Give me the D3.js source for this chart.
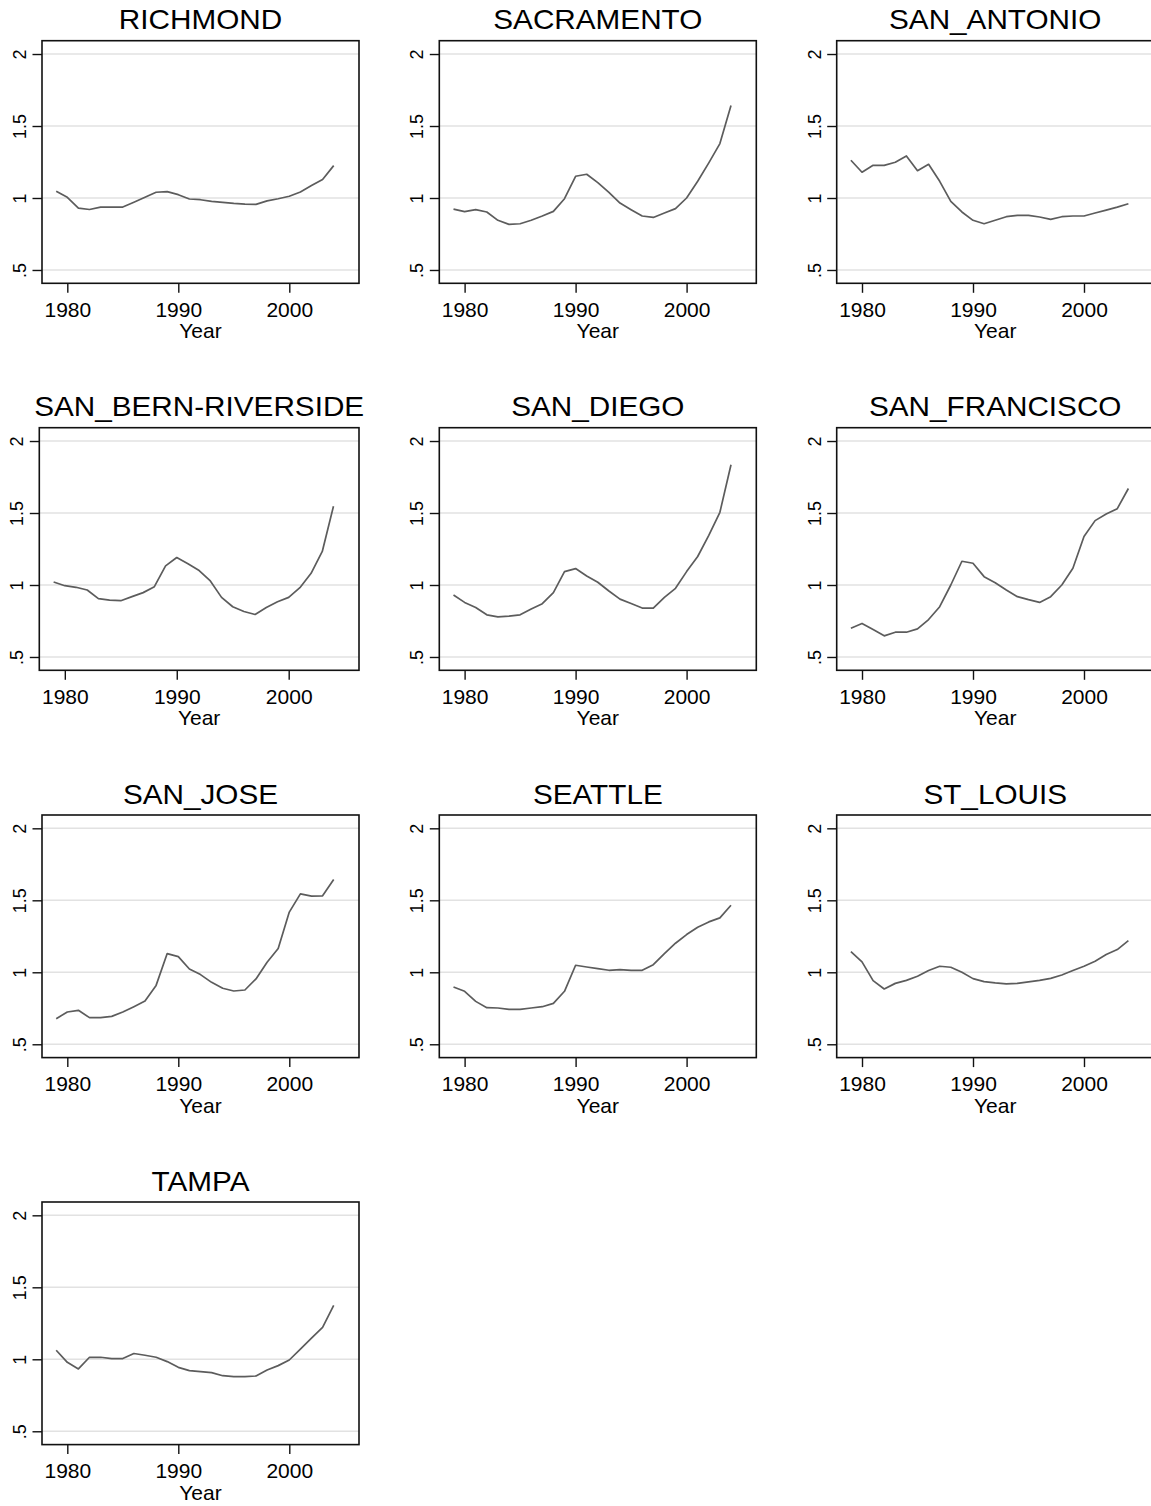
<!DOCTYPE html>
<html>
<head>
<meta charset="utf-8">
<script src="https://cdn.jsdelivr.net/npm/d3@7"></script>
<style>
  html, body { margin: 0; padding: 0; background: #fff; overflow: hidden; }
  svg { display: block; font-family: "Liberation Sans", Arial, Helvetica, sans-serif; }
</style>
</head>
<body>
<svg id="chart" width="1151" height="1506"></svg>
<script>
const years = [1979,1980,1981,1982,1983,1984,1985,1986,1987,1988,1989,1990,1991,1992,1993,1994,1995,1996,1997,1998,1999,2000,2001,2002,2003,2004];

const cities = ["RICHMOND","SACRAMENTO","SAN_ANTONIO","SAN_BERN-RIVERSIDE","SAN_DIEGO","SAN_FRANCISCO","SAN_JOSE","SEATTLE","ST_LOUIS","TAMPA"];

const richmond     = [1.046,1.005,0.930,0.920,0.937,0.937,0.937,0.970,1.005,1.040,1.044,1.023,0.993,0.988,0.977,0.970,0.963,0.958,0.956,0.980,0.995,1.012,1.042,1.086,1.128,1.225];
const sacramento   = [0.923,0.905,0.919,0.903,0.845,0.817,0.821,0.845,0.875,0.907,0.995,1.151,1.165,1.107,1.039,0.965,0.919,0.875,0.865,0.896,0.926,1.000,1.116,1.244,1.378,1.643];
const sanAntonio   = [1.262,1.179,1.227,1.227,1.248,1.292,1.190,1.234,1.116,0.977,0.903,0.845,0.821,0.845,0.870,0.879,0.879,0.868,0.852,0.870,0.875,0.875,0.896,0.916,0.937,0.960];
const sanBern      = [1.021,0.995,0.984,0.965,0.905,0.895,0.891,0.919,0.947,0.988,1.133,1.191,1.147,1.100,1.028,0.914,0.849,0.816,0.795,0.844,0.884,0.914,0.981,1.081,1.233,1.547];
const sanDiego     = [0.930,0.879,0.844,0.793,0.779,0.784,0.793,0.833,0.870,0.947,1.093,1.114,1.063,1.019,0.958,0.902,0.872,0.840,0.840,0.914,0.977,1.093,1.198,1.344,1.505,1.835];
const sanFrancisco = [0.700,0.733,0.691,0.647,0.672,0.672,0.695,0.760,0.849,1.000,1.165,1.151,1.058,1.016,0.965,0.919,0.898,0.879,0.919,1.000,1.116,1.337,1.447,1.493,1.530,1.670];
const sanJose      = [0.678,0.724,0.736,0.685,0.685,0.694,0.724,0.761,0.800,0.909,1.130,1.109,1.023,0.984,0.930,0.889,0.870,0.877,0.954,1.070,1.165,1.418,1.545,1.529,1.531,1.645];
const seattle      = [0.898,0.868,0.798,0.754,0.752,0.742,0.742,0.752,0.761,0.784,0.868,1.049,1.037,1.026,1.014,1.019,1.014,1.014,1.053,1.130,1.202,1.262,1.313,1.350,1.378,1.466];
const stLouis      = [1.144,1.072,0.942,0.884,0.923,0.944,0.972,1.012,1.042,1.035,1.000,0.956,0.935,0.926,0.919,0.923,0.933,0.944,0.958,0.981,1.012,1.042,1.077,1.123,1.158,1.220];
const tampa        = [1.063,0.979,0.933,1.014,1.014,1.005,1.005,1.040,1.028,1.014,0.984,0.944,0.921,0.914,0.907,0.886,0.879,0.879,0.884,0.926,0.956,0.995,1.070,1.147,1.221,1.374];

const seriesValues = [richmond, sacramento, sanAntonio, sanBern, sanDiego, sanFrancisco, sanJose, seattle, stLouis, tampa];

const xTicks = [1980, 1990, 2000];
const yTicks = [0.5, 1, 1.5, 2];
const yTickLabels = [".5", "1", "1.5", "2"];
const xTitle = "Year";

// layout
const colLeft = [42, 439.3, 836.7];
const rowTop = [40.7, 427.7, 815, 1202];
const frameW = 317, frameH = 242.6;

const svg = d3.select("#chart");

cities.forEach((city, i) => {
  const col = i % 3, row = Math.floor(i / 3);
  let left = colLeft[col], w = frameW;
  if (i === 3) { left = 39.3; w = 319.7; }
  const top = rowTop[row];

  const x = d3.scaleLinear().domain([1977.72, 2006.28]).range([0, w]);
  const y = d3.scaleLinear().domain([0.4075, 2.0925]).range([frameH, 0]);

  const g = svg.append("g").attr("transform", `translate(${left},${top})`);

  // gridlines
  g.selectAll("line.grid").data(yTicks).join("line")
    .attr("class", "grid")
    .attr("x1", 0).attr("x2", w)
    .attr("y1", d => y(d)).attr("y2", d => y(d))
    .attr("stroke", "#e2e2e2").attr("stroke-width", 1.6);

  // data line
  const pts = years.map((yr, k) => [yr, seriesValues[i][k]]);
  g.append("path")
    .datum(pts)
    .attr("fill", "none")
    .attr("stroke", "#5c5c5c")
    .attr("stroke-width", 1.7)
    .attr("stroke-linejoin", "round")
    .attr("d", d3.line().x(d => x(d[0])).y(d => y(d[1])));

  // frame
  g.append("rect")
    .attr("x", 0).attr("y", 0).attr("width", w).attr("height", frameH)
    .attr("fill", "none").attr("stroke", "#111").attr("stroke-width", 1.6);

  // y axis
  const yAxis = d3.axisLeft(y).tickValues(yTicks).tickSize(9.5)
    .tickFormat((d) => yTickLabels[yTicks.indexOf(d)]);
  const ya = g.append("g").call(yAxis);
  ya.select(".domain").remove();
  ya.selectAll(".tick line").attr("stroke", "#111").attr("stroke-width", 1.4);
  ya.selectAll(".tick text")
    .attr("transform", "rotate(-90)")
    .attr("x", 0).attr("y", -16).attr("dy", null)
    .attr("text-anchor", "middle")
    .attr("fill", "#000")
    .style("font-size", "18px")
    .style("font-family", "'Liberation Sans', Arial, sans-serif");

  // x axis
  const xAxis = d3.axisBottom(x).tickValues(xTicks).tickSize(9.5).tickFormat(d3.format("d"));
  const xa = g.append("g").attr("transform", `translate(0,${frameH})`).call(xAxis);
  xa.select(".domain").remove();
  xa.selectAll(".tick line").attr("stroke", "#111").attr("stroke-width", 1.4);
  xa.selectAll(".tick text")
    .attr("y", 33.4).attr("dy", null)
    .attr("fill", "#000")
    .style("font-size", "21px")
    .style("font-family", "'Liberation Sans', Arial, sans-serif");

  // x title
  g.append("text")
    .attr("x", w / 2).attr("y", frameH + 55)
    .attr("text-anchor", "middle")
    .style("font-size", "21px")
    .text(xTitle);

  // panel title
  g.append("text")
    .attr("transform", `translate(${w / 2},${-11.5}) scale(1.1,1)`)
    .attr("text-anchor", "middle")
    .style("font-size", "27px")
    .text(city);
});
</script>
</body>
</html>
